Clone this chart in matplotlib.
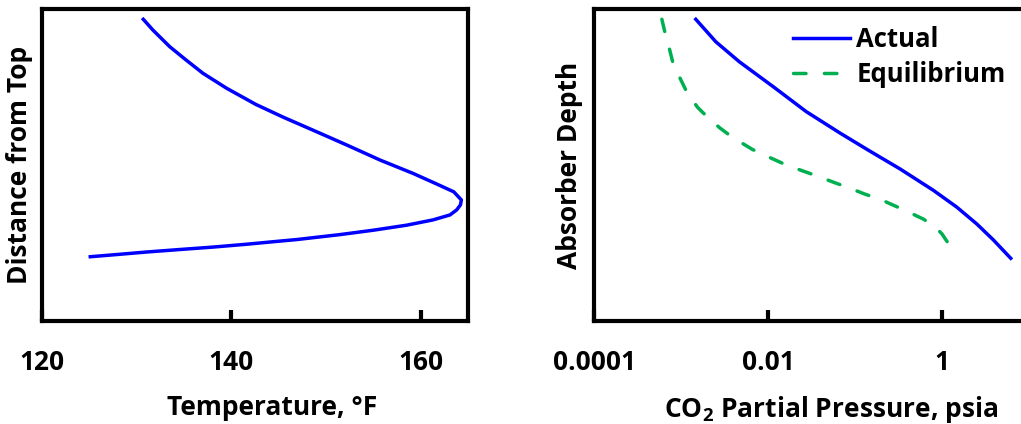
import numpy as np
import matplotlib.pyplot as plt

# Left panel: temperature profile (height given as fraction of the axis, 1 = top)
temp_F = [130.7, 131.7, 133.5, 135.2, 137.0, 139.5, 142.6, 145.5, 148.6, 152.2,
          155.7, 159.2, 161.7, 163.5, 163.9, 164.3, 164.2, 163.8, 163.1, 161.3,
          158.5, 155.0, 151.5, 146.9, 145.1, 141.6, 138.1, 134.5, 131.0, 127.5, 125.1]
temp_height = [0.967, 0.933, 0.879, 0.837, 0.794, 0.746, 0.694, 0.653, 0.612, 0.564,
               0.516, 0.473, 0.439, 0.414, 0.401, 0.388, 0.372, 0.356, 0.340, 0.324,
               0.307, 0.291, 0.277, 0.261, 0.256, 0.246, 0.237, 0.229, 0.221, 0.212, 0.206]
temp_ticks = [120, 140, 160]

# Right panel: CO2 partial pressure (log10 psia) vs absorber depth
actual_log_p = [-2.83, -2.60, -2.33, -1.94, -1.56, -1.17, -0.85, -0.48,
                -0.10, 0.17, 0.40, 0.59, 0.79]
actual_height = [0.967, 0.895, 0.831, 0.751, 0.671, 0.602, 0.548, 0.487,
                 0.419, 0.365, 0.311, 0.260, 0.201]
equil_log_p = [-3.22, -3.20, -3.18, -3.13, -3.09, -3.00, -2.93, -2.81, -2.69, -2.55,
               -2.41, -2.18, -1.98, -1.79, -1.58, -1.40, -1.23, -1.07, -0.89, -0.71,
               -0.55, -0.39, -0.21, -0.07, 0.00, 0.06, 0.07, 0.03]
equil_height = [0.967, 0.943, 0.920, 0.869, 0.824, 0.772, 0.732, 0.685, 0.652, 0.618,
                0.589, 0.550, 0.524, 0.500, 0.479, 0.461, 0.443, 0.427, 0.407, 0.390,
                0.370, 0.350, 0.326, 0.299, 0.279, 0.254, 0.238, 0.217]
pressure_ticks = [0.0001, 0.01, 1]
pressure_tick_labels = ["0.0001", "0.01", "1"]

BLUE = "#0000FF"
GREEN = "#00B050"
FS = 19

plt.rcParams['font.family'] = ['Open Sans', 'DejaVu Sans']
plt.rcParams['font.weight'] = 'bold'
plt.rcParams['font.size'] = FS
plt.rcParams['mathtext.fontset'] = 'custom'
plt.rcParams['mathtext.bf'] = 'Open Sans:bold'
plt.rcParams['mathtext.rm'] = 'Open Sans:bold'

W, H = 1021, 424
fig = plt.figure(figsize=(W / 100, H / 100), dpi=100)


def px_axes(x0, y0, x1, y1):
    return fig.add_axes([x0 / W, 1 - y1 / H, (x1 - x0) / W, (y1 - y0) / H])


def style_axes(ax):
    for s in ax.spines.values():
        s.set_linewidth(3)
    ax.tick_params(axis='x', direction='in', length=8, width=3, pad=20, labelsize=FS)
    ax.tick_params(axis='y', left=False, labelleft=False)
    ax.minorticks_off()
    ax.set_ylim(0, 1)


ax1 = px_axes(42, 9, 468, 321)
ax1.plot(temp_F, temp_height, color=BLUE, lw=2.5)
ax1.set_xlim(120, 165)
ax1.set_xticks(temp_ticks)
style_axes(ax1)
ax1.set_xlabel("Temperature, °F", fontweight='bold', fontsize=FS)
ax1.xaxis.set_label_coords(0.54, -0.235)
ax1.set_ylabel("Distance from Top", fontweight='bold', fontsize=FS)
ax1.yaxis.set_label_coords(-0.021, 0.5)

ax2 = px_axes(594, 9, 1029, 321)
ax2.plot(10 ** np.array(actual_log_p), actual_height, color=BLUE, lw=2.5, label="Actual")
ax2.plot(10 ** np.array(equil_log_p), equil_height, color=GREEN, lw=2.5,
         dashes=(3.6, 5.3), dash_capstyle='round', label="Equilibrium")
ax2.set_xscale('log')
ax2.set_xlim(1e-4, 10)
ax2.set_xticks(pressure_ticks)
ax2.set_xticklabels(pressure_tick_labels)
style_axes(ax2)
ax2.set_xlabel("CO$_\\mathrm{2}$ Partial Pressure, psia", fontweight='bold', fontsize=FS)
ax2.xaxis.set_label_coords(0.545, -0.235)
ax2.set_ylabel("Absorber Depth", fontweight='bold', fontsize=FS)
ax2.yaxis.set_label_coords(-0.025, 0.5)
ax2.legend(loc='upper left', bbox_to_anchor=(0.457, 0.947), frameon=False,
           borderpad=0, borderaxespad=0, handlelength=2.24, handletextpad=0.23,
           labelspacing=0.33, prop={'weight': 'bold', 'size': 18.5})

fig.savefig("out.png", dpi=100)
